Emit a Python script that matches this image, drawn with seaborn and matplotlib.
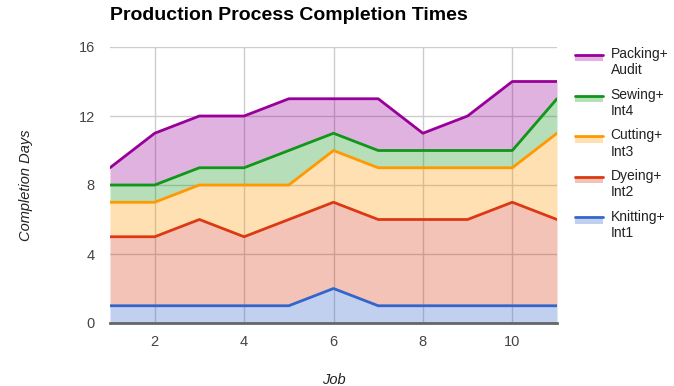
import numpy as np
import pandas as pd
import matplotlib
matplotlib.use("Agg")
import matplotlib.pyplot as plt
import seaborn as sns
from matplotlib.legend_handler import HandlerBase
from matplotlib.lines import Line2D
from matplotlib.patches import Rectangle

jobs = [1, 2, 3, 4, 5, 6, 7, 8, 9, 10, 11]
knitting = [1, 1, 1, 1, 1, 2, 1, 1, 1, 1, 1]
dyeing = [4, 4, 5, 4, 5, 5, 5, 5, 5, 6, 5]
cutting = [2, 2, 2, 3, 2, 3, 3, 3, 3, 2, 5]
sewing = [1, 1, 1, 1, 2, 1, 1, 1, 1, 1, 2]
packing = [1, 3, 3, 3, 3, 2, 3, 1, 2, 4, 1]
series_names = ["Knitting+\nInt1", "Dyeing+\nInt2", "Cutting+\nInt3", "Sewing+\nInt4", "Packing+\nAudit"]
colors = ["#3366cc", "#dc3912", "#ff9900", "#109618", "#990099"]

sns.set_theme(style="white")
plt.rcParams['font.family'] = ['Liberation Sans', 'DejaVu Sans']

fig = plt.figure(figsize=(6.74, 3.86), dpi=100)
ax = fig.add_axes([110/674, 63/386, 447/674, 276/386])

stages = [knitting, dyeing, cutting, sewing, packing]
cum = np.cumsum(np.array(stages), axis=0)
prev = np.zeros(len(jobs))
for i, name in enumerate(series_names):
    top = cum[i]
    ax.fill_between(jobs, prev, top, color=colors[i], alpha=0.3, linewidth=0, zorder=2)
    df = pd.DataFrame({"Job": jobs, "val": top})
    sns.lineplot(data=df, x="Job", y="val", ax=ax, color=colors[i], linewidth=2, zorder=3)
    prev = top

ax.set_xlim(1, 11)
ax.set_ylim(0, 16)
ax.set_xticks([2, 4, 6, 8, 10])
ax.set_yticks([0, 4, 8, 12, 16])
ax.grid(True, color="#cccccc", linewidth=1, zorder=1)
ax.set_axisbelow(True)
for s in ["top", "right", "left"]:
    ax.spines[s].set_visible(False)
ax.spines["bottom"].set_color("#666666")
ax.spines["bottom"].set_linewidth(2)
ax.spines["bottom"].set_zorder(5)
ax.tick_params(axis="both", length=0, labelsize=10.5, labelcolor="#444444")
ax.tick_params(axis="x", pad=9)
ax.tick_params(axis="y", pad=11)
ax.set_xlabel("Job", fontsize=10.5, style="italic", color="#222222", labelpad=17)
ax.set_ylabel("Completion Days", fontsize=10.5, style="italic", color="#222222", labelpad=33)
fig.text(110/674, 1 - 15/386, "Production Process Completion Times", fontsize=14,
         fontweight="bold", color="#000000", ha="left", va="center")


class LineOverPatch(HandlerBase):
    def __init__(self, color):
        super().__init__()
        self.color = color

    def create_artists(self, legend, orig_handle, xdescent, ydescent, width, height, fontsize, trans):
        rect = Rectangle((-xdescent, -ydescent + height * 0.58), width, height * 0.22,
                         facecolor=self.color, alpha=0.3, edgecolor="none", transform=trans)
        line = Line2D([-xdescent, -xdescent + width], [-ydescent + height * 0.85] * 2,
                      color=self.color, linewidth=2, transform=trans)
        return [rect, line]


handles = []
hmap = {}
for i in reversed(range(len(series_names))):
    h = Line2D([], [], color=colors[i])
    handles.append(h)
    hmap[h] = LineOverPatch(colors[i])
labels = list(reversed(series_names))
leg = fig.legend(handles, labels, handler_map=hmap, loc="upper left",
                 bbox_to_anchor=(564/674, 1 - 36/386), frameon=False, fontsize=10,
                 handlelength=2.0, handleheight=2.3, handletextpad=0.55, labelspacing=0.75,
                 labelcolor="#222222", borderpad=0.3)

fig.savefig("out.png", dpi=100)
